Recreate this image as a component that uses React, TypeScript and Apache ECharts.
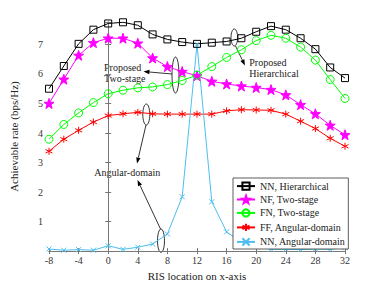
import React, { useEffect, useRef } from "react";
import * as echarts from "echarts";

const xs = [-8, -6, -4, -2, 0, 2, 4, 6, 8, 10, 12, 14, 16, 18, 20, 22, 24, 26, 28, 30, 32];
const nnHier = [5.5, 6.27, 7.02, 7.5, 7.71, 7.75, 7.65, 7.34, 7.17, 7.08, 7.02, 7.06, 7.1, 7.21, 7.43, 7.62, 7.5, 7.21, 6.84, 6.22, 5.86];
const nfTwo = [5.0, 5.82, 6.63, 7.06, 7.21, 7.21, 7.04, 6.54, 6.25, 6.08, 5.94, 5.75, 5.66, 5.59, 5.54, 5.47, 5.29, 4.96, 4.65, 4.26, 3.94];
const fnTwo = [3.79, 4.29, 4.68, 5.03, 5.33, 5.45, 5.53, 5.56, 5.64, 5.78, 5.96, 6.25, 6.56, 6.82, 7.13, 7.31, 7.21, 6.91, 6.47, 5.81, 5.17];
const ffAng = [3.38, 3.79, 4.09, 4.37, 4.59, 4.65, 4.7, 4.65, 4.64, 4.64, 4.64, 4.64, 4.75, 4.79, 4.78, 4.77, 4.64, 4.4, 4.15, 3.82, 3.55];
const nnAng = [0.07, 0.03, 0.05, 0.03, 0.18, 0.06, 0.13, 0.24, 0.58, 1.84, 7.0, 1.67, 0.65, 0.3, 0.15, 0.06, 0.06, 0.05, 0.07, 0.06, 0.12];
const seriesNames = ["NN, Hierarchical", "NF, Two-stage", "FN, Two-stage", "FF, Angular-domain", "NN, Angular-domain"];
const xTicks = { min: -8, max: 32, interval: 4 };
const yTicks = { min: 0, max: 7.76, interval: 1 };

const FONT = "Liberation Serif";

function starPath(): string {
  const pts: string[] = [];
  for (let i = 0; i < 10; i++) {
    const r = i % 2 === 0 ? 10 : 4;
    const a = -Math.PI / 2 + (i * Math.PI) / 5;
    pts.push((10 + r * Math.cos(a)).toFixed(2) + " " + (10 + r * Math.sin(a)).toFixed(2));
  }
  return "path://M" + pts.join("L") + "Z";
}
const asteriskPath = "path://M10 0L10 20M1.34 5L18.66 15M1.34 15L18.66 5";
const xPath = "path://M0 0L10 10M10 0L0 10";

function arrow(x1: number, y1: number, x2: number, y2: number): any[] {
  const dx = x2 - x1, dy = y2 - y1;
  const len = Math.sqrt(dx * dx + dy * dy);
  const ux = dx / len, uy = dy / len;
  const hl = 6, hw = 2.2;
  const bx = x2 - ux * hl, by = y2 - uy * hl;
  return [
    { type: "line", shape: { x1, y1, x2: bx, y2: by }, style: { stroke: "#000", lineWidth: 0.8 } },
    {
      type: "polygon",
      shape: { points: [[x2, y2], [bx - uy * hw, by + ux * hw], [bx + uy * hw, by - ux * hw]] },
      style: { fill: "#000" },
    },
  ];
}
function ell(cx: number, cy: number, rx: number, ry: number): any {
  return { type: "ellipse", shape: { cx, cy, rx, ry }, style: { fill: "none", stroke: "#000", lineWidth: 0.8 } };
}
function txt(x: number, y: number, t: string): any {
  return { type: "text", x, y, style: { text: t, font: `10px "${FONT}"`, fill: "#222", align: "left", verticalAlign: "middle" } };
}

export default function App() {
  const ref = useRef<HTMLDivElement>(null);
  useEffect(() => {
    if (!ref.current) return;
    const chart = echarts.init(ref.current, null, { renderer: "svg" });
    const mk = (vals: number[]) => xs.map((x, i) => [x, vals[i]]);
    const axisColor = "#777";
    const baseX = {
      type: "value",
      ...xTicks,
      axisLine: { show: true, lineStyle: { color: axisColor, width: 1 } },
      axisTick: { show: true, inside: true, length: 3, lineStyle: { color: axisColor } },
      splitLine: { show: false },
    };
    const baseY = {
      type: "value",
      ...yTicks,
      axisLine: { show: true, lineStyle: { color: axisColor, width: 1 } },
      axisTick: { show: true, inside: true, length: 3, lineStyle: { color: axisColor } },
      splitLine: { show: false },
    };
    const lineSeries = (name: string, vals: number[], color: string, symbol: string, size: number, filled: boolean) => ({
      name,
      type: "line",
      data: mk(vals),
      symbol,
      symbolSize: size,
      showAllSymbol: true,
      lineStyle: { color, width: 1 },
      itemStyle: { color: filled ? color : "none", borderColor: color, borderWidth: 1 },
      emphasis: { disabled: true },
    });
    chart.setOption({
      animation: false,
      textStyle: { fontFamily: FONT },
      grid: { left: 49, right: 37, top: 22, bottom: 32, containLabel: false },
      xAxis: [
        {
          ...baseX,
          position: "bottom",
          name: "RIS location on x-axis",
          nameLocation: "middle",
          nameGap: 16,
          nameTextStyle: { fontFamily: FONT, fontSize: 11, color: "#222" },
          axisLabel: { fontFamily: FONT, fontSize: 10, color: "#333", margin: 4 },
        },
        { ...baseX, position: "top", axisLabel: { show: false } },
      ],
      yAxis: [
        {
          ...baseY,
          position: "left",
          name: "Achievable rate (bps/Hz)",
          nameLocation: "middle",
          nameGap: 30,
          nameTextStyle: { fontFamily: FONT, fontSize: 11, color: "#222" },
          axisLabel: {
            fontFamily: FONT,
            fontSize: 10,
            color: "#333",
            margin: 6,
            showMinLabel: false,
            formatter: (v: number) => (Number.isInteger(v) && v > 0 ? String(v) : ""),
          },
        },
        { ...baseY, position: "right", axisLabel: { show: false } },
      ],
      legend: {
        orient: "vertical",
        left: 233,
        top: 178,
        width: 111,
        padding: [2, 3, 1, 3],
        itemWidth: 18,
        itemHeight: 9,
        itemGap: 2.3,
        backgroundColor: "#fff",
        borderColor: "#333",
        borderWidth: 0.8,
        borderRadius: 0,
        textStyle: { fontFamily: FONT, fontSize: 10, color: "#222", lineHeight: 9 },
        data: seriesNames,
      },
      series: [
        lineSeries(seriesNames[0], nnHier, "#000000", "rect", 7, false),
        lineSeries(seriesNames[1], nfTwo, "#ff00ff", starPath(), 10, true),
        lineSeries(seriesNames[2], fnTwo, "#00ff00", "circle", 8, false),
        lineSeries(seriesNames[3], ffAng, "#ff0000", asteriskPath, 7, false),
        lineSeries(seriesNames[4], nnAng, "#4dbeee", xPath, 5, false),
      ],
      graphic: [
        ell(175.5, 75, 3.5, 18),
        ...arrow(172, 74, 143.5, 71.5),
        txt(104, 67.5, "Proposed"),
        txt(104, 78.5, "Two-stage"),
        ell(234.3, 37.5, 3.3, 8.5),
        ...arrow(235.5, 46, 245, 65.5),
        txt(249.3, 62.5, "Proposed"),
        txt(249.3, 73.5, "Hierarchical"),
        ell(146.3, 114.5, 3.5, 10.5),
        ...arrow(146, 125, 137, 163.5),
        txt(94.3, 172, "Angular-domain"),
        ell(161, 240.7, 3.5, 11.7),
        ...arrow(160.5, 229, 137.5, 180),
      ],
    });
    return () => chart.dispose();
  }, []);
  return <div ref={ref} style={{ width: 382, height: 286, position: "absolute", left: 0, top: 0, background: "#fff" }} />;
}
